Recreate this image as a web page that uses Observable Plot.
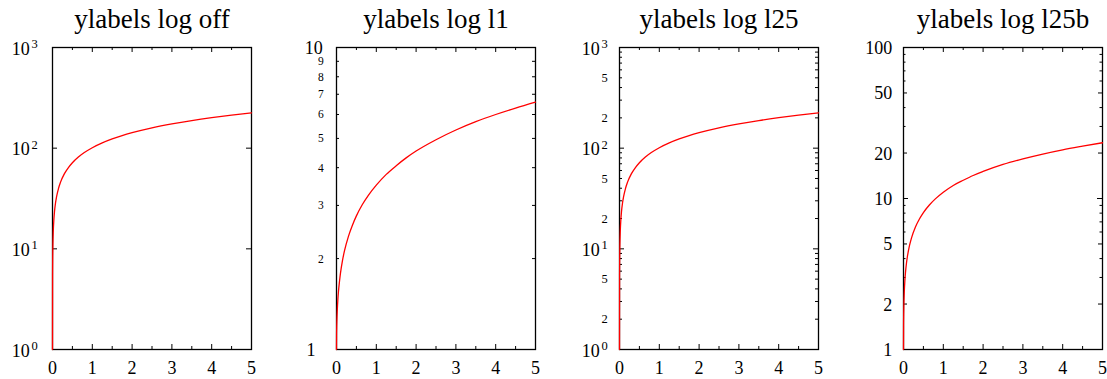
<!DOCTYPE html>
<html><head><meta charset="utf-8">
<script src="https://cdn.jsdelivr.net/npm/d3@7"></script>
<script src="https://cdn.jsdelivr.net/npm/@observablehq/plot@0.6"></script>
<style>
body{margin:0;background:#fff;overflow:hidden}
#wrap{position:relative;width:1107px;height:379px}
#wrap svg{position:absolute;top:0}
</style>
</head><body><div id="wrap"></div>
<script>
// ---- data ----
const titles = ["ylabels log off", "ylabels log l1", "ylabels log l25", "ylabels log l25b"];
const xs = [0, 0.002, 0.005, 0.01, 0.02, 0.035, 0.05, 0.075, 0.1, 0.15, 0.2, 0.3, 0.4, 0.5, 0.65, 0.8, 1, 1.25, 1.5, 1.75, 2, 2.5, 3, 3.5, 4, 4.5, 5];
const ysBig = [1, 5.5, 8.1, 11, 15.1, 19.7, 23.4, 28.4, 32.6, 39.7, 45.7, 55.8, 64.2, 71.7, 81.6, 90.4, 101, 112.8, 123.5, 133.3, 142.4, 159.1, 174.2, 188.1, 201, 213.1, 224.6];
const ysSmall = [1, 1.11, 1.18, 1.25, 1.35, 1.47, 1.56, 1.68, 1.79, 1.97, 2.12, 2.37, 2.58, 2.77, 3.02, 3.24, 3.5, 3.8, 4.06, 4.31, 4.54, 4.95, 5.33, 5.68, 6.0, 6.3, 6.59];
const ysMid = [1, 1.45, 1.71, 2.0, 2.41, 2.87, 3.24, 3.74, 4.16, 4.87, 5.47, 6.48, 7.32, 8.07, 9.06, 9.94, 11, 12.2, 13.2, 14.2, 15.1, 16.8, 18.3, 19.7, 21, 22.2, 23.4];

const xMajor = [0, 1, 2, 3, 4, 5];
const xMinor = [0.5, 1.5, 2.5, 3.5, 4.5];

// panel 1 (log off)
const p1Domain = [1, 1000];
const p1TickMajor = [10, 100];
const p1LabelVals = [1, 10, 100, 1000];
const p1LabelExps = ["0", "1", "2", "3"];
// panel 2 (l1)
const p2Domain = [1, 10];
const p2TickMinor = [2, 3, 4, 5, 6, 7, 8, 9];
const p2BigVals = [10];
const p2BigTexts = ["10"];
const p2OneVals = [1];
const p2OneTexts = ["1"];
const p2SmallVals = [2, 3, 4, 5, 6, 7, 8, 9];
const p2SmallTexts = ["2", "3", "4", "5", "6", "7", "8", "9"];
// panel 3 (l25)
const p3Domain = [1, 1000];
const p3TickMajor = [10, 100];
const p3TickMinor = [2, 3, 4, 5, 6, 7, 8, 9, 20, 30, 40, 50, 60, 70, 80, 90, 200, 300, 400, 500, 600, 700, 800, 900];
const p3LabelVals = [1, 10, 100, 1000];
const p3LabelExps = ["0", "1", "2", "3"];
const p3SmallVals = [2, 5, 20, 50, 200, 500];
const p3SmallTexts = ["2", "5", "2", "5", "2", "5"];
// panel 4 (l25b)
const p4Domain = [1, 100];
const p4TickMajor = [10];
const p4TickMed = [2, 5, 20, 50];
const p4TickMinor = [3, 4, 6, 7, 8, 9, 30, 40, 60, 70, 80, 90];
const p4LabelVals = [1, 2, 5, 10, 20, 50, 100];
const p4LabelTexts = ["1", "2", "5", "10", "20", "50", "100"];

// ---- drawing ----
const H = 302, FW = 199;
const FONT = "'Liberation Serif', 'Times New Roman', serif";

function yTicks(vals, len) {
  return [
    Plot.tickY(vals, {y: d => d, insetRight: FW - len, stroke: "black", strokeWidth: 1}),
    Plot.tickY(vals, {y: d => d, insetLeft: FW - len, stroke: "black", strokeWidth: 1})
  ];
}
function yLabels(vals, texts, o) {
  return Plot.text(vals, {y: d => d, text: (d, i) => texts[i], frameAnchor: "left", textAnchor: o.anchor || "end",
    lineAnchor: "bottom", dx: o.dx, dy: o.dy, fontSize: o.size, fill: "black"});
}

function panel(left, title, domain, ys, ticks, labels) {
  const data = xs.map((x, i) => ({x, y: ys[i]}));
  const svg = Plot.plot({
    width: 52 + FW + 6, height: 379,
    marginLeft: 52, marginRight: 6, marginTop: 47, marginBottom: 30,
    style: {fontFamily: FONT, background: "white", color: "black"},
    x: {domain: [0, 5], axis: null},
    y: {type: "log", domain, axis: null},
    marks: [
      Plot.frame({stroke: "black", strokeWidth: 1.3}),
      Plot.tickX(xMajor, {x: d => d, insetTop: H - 5, stroke: "black"}),
      Plot.tickX(xMajor, {x: d => d, insetBottom: H - 5, stroke: "black"}),
      Plot.tickX(xMinor, {x: d => d, insetTop: H - 3, stroke: "black"}),
      Plot.tickX(xMinor, {x: d => d, insetBottom: H - 3, stroke: "black"}),
      ...ticks,
      Plot.line(data, {x: "x", y: "y", stroke: "red", strokeWidth: 1.3, curve: "monotone-x"}),
      Plot.text(xMajor, {x: d => d, text: d => String(d), frameAnchor: "bottom", lineAnchor: "bottom", dy: 24, fontSize: 18, fill: "black"}),
      Plot.text([title], {text: d => d, frameAnchor: "top", lineAnchor: "bottom", dy: -19.5, fontSize: 27, fill: "black"}),
      ...labels
    ]
  });
  svg.style.left = left + "px";
  document.getElementById("wrap").appendChild(svg);
}

panel(0, titles[0], p1Domain, ysBig,
  [...yTicks(p1TickMajor, 5)],
  [
    yLabels(p1LabelVals, p1LabelVals.map(() => "10"), {dx: -22.7, dy: 7, size: 18}),
    yLabels(p1LabelVals, p1LabelExps, {dx: -14.7, dy: 0.5, size: 12.5})
  ]);

panel(284, titles[1], p2Domain, ysSmall,
  [...yTicks(p2TickMinor, 3)],
  [
    yLabels(p2BigVals, p2BigTexts, {dx: -13.7, dy: 6, size: 18}),
    yLabels(p2OneVals, p2OneTexts, {dx: -21, dy: 6.5, size: 18}),
    yLabels(p2SmallVals, p2SmallTexts, {dx: -12.7, dy: 4, size: 11.5})
  ]);

panel(567, titles[2], p3Domain, ysBig,
  [...yTicks(p3TickMajor, 5), ...yTicks(p3TickMinor, 3)],
  [
    yLabels(p3LabelVals, p3LabelVals.map(() => "10"), {dx: -19.7, dy: 7, size: 18}),
    yLabels(p3LabelVals, p3LabelExps, {dx: -11.7, dy: 0.5, size: 12.5}),
    yLabels(p3SmallVals, p3SmallTexts, {dx: -11.7, dy: 4.2, size: 12.5})
  ]);

panel(851, titles[3], p4Domain, ysMid,
  [...yTicks(p4TickMajor, 5), ...yTicks(p4TickMed, 4), ...yTicks(p4TickMinor, 2.5)],
  [
    yLabels(p4LabelVals, p4LabelTexts, {dx: -11.3, dy: 6.5, size: 18})
  ]);
</script></body></html>
